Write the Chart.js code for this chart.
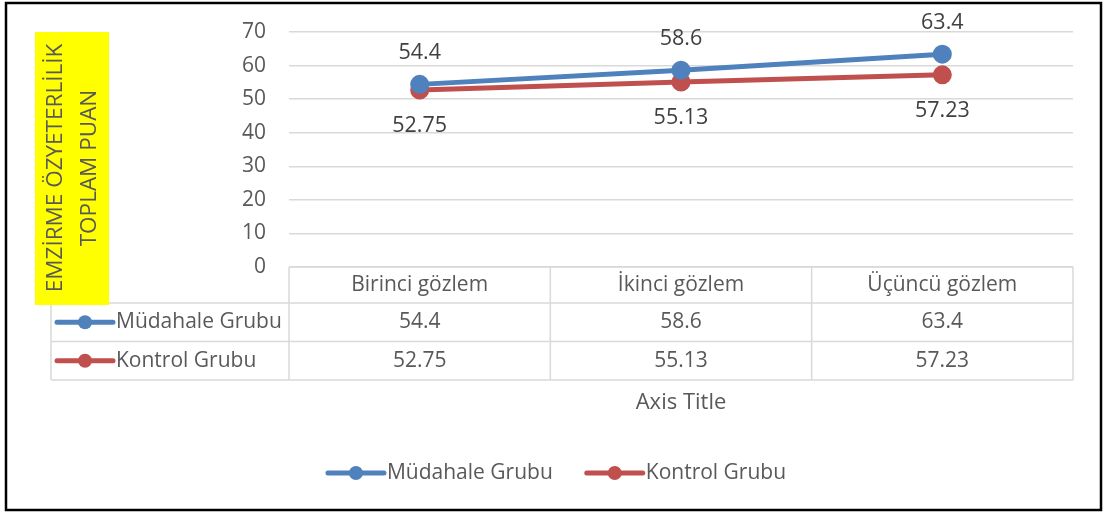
<!DOCTYPE html>
<html>
<head>
<meta charset="utf-8">
<script src="https://cdn.jsdelivr.net/npm/chart.js@4"></script>
<style>
  html, body { margin: 0; padding: 0; background: #fff; }
  canvas { display: block; }
</style>
</head>
<body>
<canvas id="chart" width="1104" height="514"></canvas>
<script>
// veriler
const categories = ['Birinci gözlem', 'İkinci gözlem', 'Üçüncü gözlem'];
const mudahaleValues = [54.4, 58.6, 63.4];
const kontrolValues = [52.75, 55.13, 57.23];
const seriesNames = ['Müdahale Grubu', 'Kontrol Grubu'];
const seriesColors = ['#4F81BD', '#C0504D'];
const yTitleLines = ['EMZİRME ÖZYETERLİLİK', 'TOPLAM PUAN'];
const xTitle = 'Axis Title';

const FONT = "'Open Sans', sans-serif";
const GRID = '#D9D9D9';
const TEXT = '#595959';

Chart.defaults.font.family = FONT;

// beyaz zemin + siyah çerçeve
const framePlugin = {
  id: 'frame',
  beforeDraw(chart) {
    const ctx = chart.ctx;
    ctx.save();
    ctx.fillStyle = '#fff';
    ctx.fillRect(0, 0, chart.width, chart.height);
    ctx.restore();
  },
  afterDraw(chart) {
    const ctx = chart.ctx;
    ctx.save();
    ctx.strokeStyle = '#000';
    ctx.lineWidth = 2.5;
    ctx.strokeRect(6, 3, chart.width - 9, chart.height - 7);
    ctx.restore();
  }
};

function drawKey(ctx, x, y, color) {
  ctx.strokeStyle = color;
  ctx.lineWidth = 5;
  ctx.lineCap = 'round';
  ctx.beginPath();
  ctx.moveTo(x, y);
  ctx.lineTo(x + 56, y);
  ctx.stroke();
  ctx.fillStyle = color;
  ctx.beginPath();
  ctx.arc(x + 28, y, 7, 0, Math.PI * 2);
  ctx.fill();
}

// veri tablosu (x ekseni yerine)
const tablePlugin = {
  id: 'dataTable',
  afterDraw(chart) {
    const ctx = chart.ctx;
    const area = chart.chartArea;
    const xs = chart.scales.x;
    const band = (area.right - area.left) / categories.length;
    const tableLeft = 51;
    const top = area.bottom;
    const rowsY = [top, top + 36, top + 74.5, top + 113];

    ctx.save();
    ctx.strokeStyle = GRID;
    ctx.lineWidth = 1.5;
    ctx.beginPath();
    ctx.moveTo(area.left, rowsY[0]);
    ctx.lineTo(area.right, rowsY[0]);
    for (let r = 1; r < rowsY.length; r++) {
      ctx.moveTo(tableLeft, rowsY[r]);
      ctx.lineTo(area.right, rowsY[r]);
    }
    ctx.moveTo(tableLeft, rowsY[1]);
    ctx.lineTo(tableLeft, rowsY[3]);
    for (let i = 0; i <= categories.length; i++) {
      const x = i < categories.length ? xs.getPixelForValue(i) - band / 2 : xs.getPixelForValue(i - 1) + band / 2;
      ctx.moveTo(x, rowsY[0]);
      ctx.lineTo(x, rowsY[3]);
    }
    ctx.stroke();

    ctx.fillStyle = TEXT;
    ctx.font = '21px ' + FONT;
    ctx.textAlign = 'center';
    ctx.textBaseline = 'middle';
    categories.forEach((c, i) => {
      ctx.fillText(c, xs.getPixelForValue(i), (rowsY[0] + rowsY[1]) / 2);
    });

    chart.data.datasets.forEach((ds, d) => {
      const cy = (rowsY[d + 1] + rowsY[d + 2]) / 2;
      ds.data.forEach((v, i) => {
        ctx.fillStyle = TEXT;
        ctx.textAlign = 'center';
        ctx.font = '21px ' + FONT;
        ctx.fillText(String(v), xs.getPixelForValue(i), cy);
      });
      drawKey(ctx, 57, cy, ds.borderColor);
      ctx.fillStyle = TEXT;
      ctx.textAlign = 'left';
      ctx.font = '21px ' + FONT;
      ctx.fillText(ds.label, 116, cy);
    });

    // x ekseni başlığı
    ctx.fillStyle = TEXT;
    ctx.textAlign = 'center';
    ctx.font = '22px ' + FONT;
    ctx.fillText(xTitle, (area.left + area.right) / 2, 403);

    // alt gösterge
    ctx.font = '21px ' + FONT;
    const items = chart.data.datasets.map(ds => ({
      label: ds.label, color: ds.borderColor, w: 56 + 3 + ctx.measureText(ds.label).width
    }));
    const gap = 34;
    const total = items.reduce((s, it) => s + it.w, 0) + gap * (items.length - 1);
    let x = chart.width / 2 + 5 - total / 2;
    const ly = 473;
    items.forEach(it => {
      drawKey(ctx, x, ly, it.color);
      ctx.fillStyle = TEXT;
      ctx.textAlign = 'left';
      ctx.fillText(it.label, x + 59, ly);
      x += it.w + gap;
    });

    // y ekseni başlığı (sarı kutu)
    ctx.fillStyle = '#FFFF00';
    ctx.fillRect(35, 32, 74, 273);
    ctx.translate(73, 168);
    ctx.rotate(-Math.PI / 2);
    ctx.fillStyle = TEXT;
    ctx.textAlign = 'center';
    ctx.font = '22.5px ' + FONT;
    ctx.fillText(yTitleLines[0], 0, -17);
    ctx.fillText(yTitleLines[1], 0, 17);
    ctx.restore();
  }
};

// veri etiketleri
const labelsPlugin = {
  id: 'pointLabels',
  afterDatasetsDraw(chart) {
    const ctx = chart.ctx;
    ctx.save();
    ctx.fillStyle = '#404040';
    ctx.font = '21.5px ' + FONT;
    ctx.textAlign = 'center';
    ctx.textBaseline = 'middle';
    chart.data.datasets.forEach((ds, d) => {
      const meta = chart.getDatasetMeta(d);
      meta.data.forEach((pt, i) => {
        const dy = d === 0 ? -31 : 36;
        ctx.fillText(String(ds.data[i]), pt.x, pt.y + dy);
      });
    });
    ctx.restore();
  }
};

const ctx = document.getElementById('chart').getContext('2d');
new Chart(ctx, {
  type: 'line',
  data: {
    labels: categories,
    datasets: [
      {
        label: seriesNames[0],
        data: mudahaleValues,
        borderColor: seriesColors[0],
        backgroundColor: seriesColors[0],
        borderWidth: 5,
        pointRadius: 7,
        pointHoverRadius: 7,
        tension: 0
      },
      {
        label: seriesNames[1],
        data: kontrolValues,
        borderColor: seriesColors[1],
        backgroundColor: seriesColors[1],
        borderWidth: 5,
        pointRadius: 7,
        pointHoverRadius: 7,
        tension: 0
      }
    ]
  },
  options: {
    responsive: false,
    animation: false,
    devicePixelRatio: 1,
    layout: { padding: { left: 0, right: 31, top: 32, bottom: 247 } },
    scales: {
      x: { display: false, offset: true },
      y: {
        min: 0,
        max: 70,
        ticks: { stepSize: 10, color: TEXT, font: { size: 21 }, padding: 3 },
        grid: { color: GRID, lineWidth: 1.5, drawTicks: true, tickLength: 20, tickColor: 'rgba(0,0,0,0)' },
        border: { display: false },
        afterFit(scale) { scale.width = 289; }
      }
    },
    plugins: {
      legend: { display: false },
      tooltip: { enabled: false }
    }
  },
  plugins: [framePlugin, labelsPlugin, tablePlugin]
});
</script>
</body>
</html>
